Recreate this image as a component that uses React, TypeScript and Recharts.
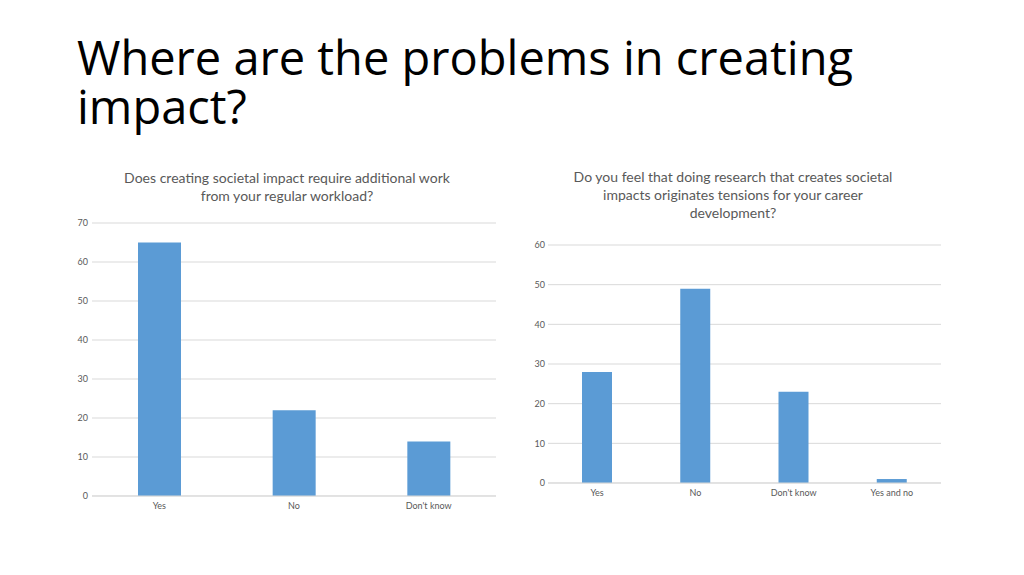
import React from "react";
import { BarChart, Bar, XAxis, YAxis, CartesianGrid } from "recharts";

const leftCategories = ["Yes", "No", "Don't know"];
const leftValues = [65, 22, 14];
const leftTicks = [0, 10, 20, 30, 40, 50, 60, 70];

const rightCategories = ["Yes", "No", "Don't know", "Yes and no"];
const rightValues = [28, 49, 23, 1];
const rightTicks = [0, 10, 20, 30, 40, 50, 60];

const slideTitle = ["Where are the problems in creating", "impact?"];
const leftTitle = ["Does creating societal impact require additional work", "from your regular workload?"];
const rightTitle = ["Do you feel that doing research that creates societal", "impacts originates tensions for your career", "development?"];

const leftData = leftCategories.map((c, i) => ({ name: c, value: leftValues[i] }));
const rightData = rightCategories.map((c, i) => ({ name: c, value: rightValues[i] }));

const BAR = "#5b9bd5";
const GRID = "#d9d9d9";
const TXT = "#595959";
const tickStyle = { fontFamily: "Lato", fontSize: 9, fill: TXT };

export default function App() {
  return (
    <div style={{ position: "absolute", left: 0, top: 0, width: 1024, height: 575, background: "#fff", overflow: "hidden" }}>
      <div
        style={{
          position: "absolute",
          left: 77,
          top: 33,
          fontFamily: "'Open Sans'",
          fontSize: 47,
          lineHeight: "49px",
          color: "#000",
          whiteSpace: "nowrap",
        }}
      >
        {slideTitle.map((l, i) => (
          <div key={i}>{l}</div>
        ))}
      </div>

      <div
        style={{
          position: "absolute",
          left: 87,
          width: 400,
          top: 169,
          textAlign: "center",
          fontFamily: "Lato",
          fontSize: 14,
          lineHeight: "18px",
          color: TXT,
        }}
      >
        {leftTitle.map((l, i) => (
          <div key={i}>{l}</div>
        ))}
      </div>

      <div
        style={{
          position: "absolute",
          left: 533,
          width: 400,
          top: 168,
          textAlign: "center",
          fontFamily: "Lato",
          fontSize: 14,
          lineHeight: "18px",
          color: TXT,
        }}
      >
        {rightTitle.map((l, i) => (
          <div key={i}>{l}</div>
        ))}
      </div>

      <div style={{ position: "absolute", left: 0, top: 200 }}>
        <BarChart width={510} height={330} data={leftData} margin={{ top: 23, right: 14, bottom: 4, left: 52 }}>
          <CartesianGrid vertical={false} stroke={GRID} />
          <XAxis dataKey="name" axisLine={{ stroke: GRID }} tickLine={false} tickSize={5} tick={tickStyle} height={30} interval={0} />
          <YAxis domain={[0, 70]} ticks={leftTicks} axisLine={false} tickLine={false} tickSize={4} tickMargin={0} tick={tickStyle} width={40} interval={0} />
          <Bar dataKey="value" fill={BAR} barSize={43} isAnimationActive={false} />
        </BarChart>
      </div>

      <div style={{ position: "absolute", left: 510, top: 225 }}>
        <BarChart width={450} height={290} data={rightData} margin={{ top: 20, right: 19, bottom: 2, left: 4 }}>
          <CartesianGrid vertical={false} stroke={GRID} />
          <XAxis dataKey="name" axisLine={{ stroke: GRID }} tickLine={false} tickSize={5} tick={tickStyle} height={30} interval={0} />
          <YAxis domain={[0, 60]} ticks={rightTicks} axisLine={false} tickLine={false} tickSize={3} tickMargin={0} tick={tickStyle} width={34} interval={0} />
          <Bar dataKey="value" fill={BAR} barSize={30} isAnimationActive={false} />
        </BarChart>
      </div>
    </div>
  );
}
